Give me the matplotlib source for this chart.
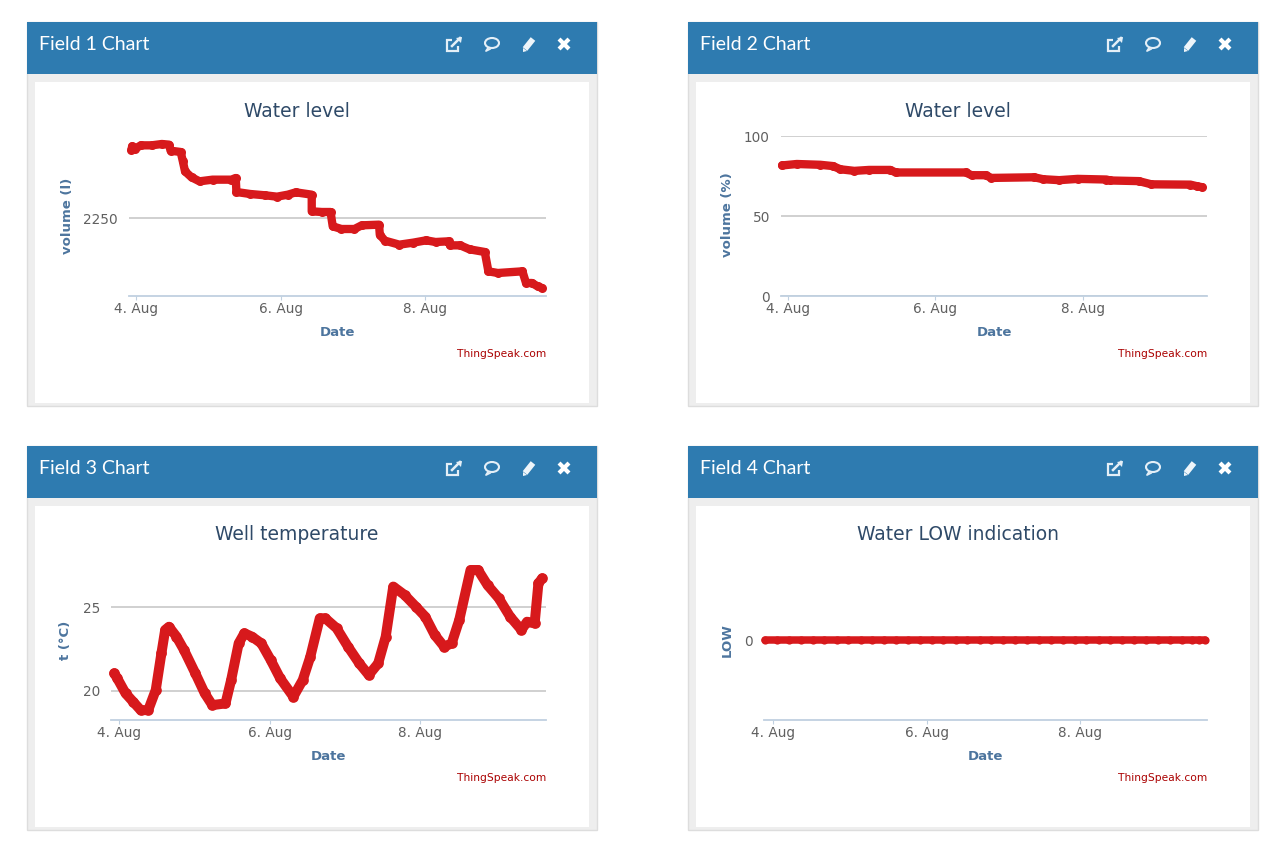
import matplotlib
matplotlib.use('Agg')
import matplotlib.pyplot as plt
from matplotlib.patches import Rectangle, Ellipse, Polygon

# days of August
level_days = [3.94, 3.95, 3.99, 4.07, 4.22, 4.36, 4.46, 4.48, 4.62, 4.65, 4.68, 4.77, 4.88, 5.06, 5.32,
              5.38, 5.39, 5.58, 5.79, 5.95, 6.10, 6.21, 6.43, 6.43, 6.57, 6.69, 6.72, 6.84, 7.02, 7.12,
              7.36, 7.37, 7.44, 7.64, 7.83, 8.01, 8.14, 8.32, 8.34, 8.48, 8.61, 8.82, 8.87, 9.00, 9.34,
              9.39, 9.47, 9.55, 9.61]
level_litres = [2455, 2465, 2458, 2468, 2468, 2472, 2470, 2452, 2448, 2420, 2390, 2372, 2360, 2365, 2365,
                2370, 2328, 2322, 2318, 2314, 2320, 2327, 2320, 2270, 2268, 2268, 2225, 2217, 2217, 2228,
                2230, 2200, 2182, 2170, 2176, 2183, 2178, 2180, 2168, 2168, 2156, 2148, 2090, 2085, 2090,
                2055, 2055, 2045, 2040]

percent_days = [3.92, 4.12, 4.44, 4.61, 4.71, 4.90, 5.10, 5.39, 5.46, 6.41, 6.49, 6.68, 6.76, 7.34, 7.46,
                7.68, 7.93, 8.32, 8.37, 8.76, 8.93, 9.46, 9.55, 9.62]
percent_values = [81.6, 82.5, 82.0, 81.2, 79.2, 78.2, 78.8, 78.8, 77.2, 77.2, 75.5, 75.5, 73.8, 74.2, 73.0,
                  72.4, 73.2, 72.8, 72.2, 71.8, 69.8, 69.6, 68.6, 68.0]

temp_days = [3.94, 3.98, 4.09, 4.19, 4.29, 4.39, 4.49, 4.565, 4.615, 4.665, 4.765, 4.865, 5.015, 5.14,
             5.24, 5.415, 5.49, 5.59, 5.665, 5.765, 5.89, 6.015, 6.14, 6.315, 6.44, 6.54, 6.665, 6.74,
             6.89, 7.04, 7.19, 7.315, 7.44, 7.54, 7.64, 7.79, 7.94, 8.065, 8.19, 8.315, 8.415, 8.515,
             8.665, 8.765, 8.89, 9.04, 9.19, 9.34, 9.415, 9.515, 9.565, 9.615]
temp_values = [21.04, 20.74, 19.84, 19.34, 18.84, 18.84, 20.04, 22.23, 23.63, 23.82, 23.23, 22.43, 21.04,
               19.84, 19.14, 19.24, 20.64, 22.83, 23.43, 23.23, 22.83, 21.83, 20.74, 19.64, 20.64, 22.03,
               24.32, 24.32, 23.73, 22.63, 21.63, 20.94, 21.63, 23.23, 26.22, 25.72, 25.02, 24.42, 23.33,
               22.63, 22.83, 24.22, 27.21, 27.21, 26.31, 25.52, 24.42, 23.63, 24.12, 24.02, 26.41, 26.71]

low_days = [3.90, 4.05, 4.21, 4.36, 4.52, 4.67, 4.83, 4.98, 5.14, 5.29, 5.45, 5.60, 5.76, 5.91, 6.07,
            6.22, 6.38, 6.53, 6.69, 6.84, 7.00, 7.15, 7.31, 7.46, 7.62, 7.77, 7.93, 8.08, 8.24, 8.39,
            8.55, 8.70, 8.86, 9.01, 9.17, 9.32, 9.45, 9.55, 9.62]
low_values = [0] * len(low_days)

tick_days = [4, 6, 8]
tick_labels = ['4. Aug', '6. Aug', '8. Aug']

RED = '#d7191c'
BLUE = '#2e7bb0'
TITLE_COLOR = '#2f4a68'
LABEL_COLOR = '#4d759e'
TICK_COLOR = '#606060'

W, H = 1280, 844
fig = plt.figure(figsize=(W / 100, H / 100), dpi=100, facecolor='white')

# page layer in pixel coordinates
bg = fig.add_axes([0, 0, 1, 1])
bg.set_xlim(0, W)
bg.set_ylim(H, 0)
bg.axis('off')


def draw_icons(x0, y0):
    # external link
    bg.add_patch(Rectangle((x0 + 420, y0 + 18), 11, 11, fill=False, ec='#e4eff7', lw=1.6))
    bg.add_patch(Rectangle((x0 + 425, y0 + 15), 8, 9, fc=BLUE, ec='none'))
    bg.plot([x0 + 425, x0 + 433], [y0 + 24, y0 + 16], color='#e4eff7', lw=1.8)
    bg.add_patch(Polygon([[x0 + 429, y0 + 16], [x0 + 435, y0 + 15], [x0 + 434, y0 + 21]], fc='#e4eff7', ec='none'))
    # comment
    bg.add_patch(Ellipse((x0 + 465, y0 + 21), 14, 10, fill=False, ec='#e4eff7', lw=1.5))
    bg.plot([x0 + 461, x0 + 459, x0 + 463], [y0 + 26, y0 + 29, y0 + 27], color='#e4eff7', lw=1.3)
    # pencil
    bg.plot([x0 + 498, x0 + 506], [y0 + 27, y0 + 17], color='#eef5fa', lw=4.2, solid_capstyle='butt')
    bg.add_patch(Polygon([[x0 + 496, y0 + 26], [x0 + 500, y0 + 29], [x0 + 496, y0 + 30]], fc='#eef5fa', ec='none'))
    # close
    bg.plot([x0 + 533.5, x0 + 540.5], [y0 + 18.5, y0 + 25.5], color='white', lw=3)
    bg.plot([x0 + 533.5, x0 + 540.5], [y0 + 25.5, y0 + 18.5], color='white', lw=3)


def draw_panel(x0, y0, name):
    bg.add_patch(Rectangle((x0, y0), 570, 384, fc='#eeeeee', ec='#dddddd', lw=1))
    bg.add_patch(Rectangle((x0 + 8, y0 + 60), 554, 321, fc='white', ec='none'))
    bg.add_patch(Rectangle((x0, y0), 570, 52, fc=BLUE, ec='none'))
    bg.text(x0 + 12, y0 + 22, name, color='white', fontsize=14, family='Lato', va='center', ha='left')
    draw_icons(x0, y0)


def draw_chart(x0, y0, left, right, top, bottom, tick4, per_day, ylim, yticks, ylabels, days, values,
               title, ylabel, title_x, date_x, ylabel_x, ylabel_y, lw):
    ax = fig.add_axes([left / W, 1 - bottom / H, (right - left) / W, (bottom - top) / H])
    ax.patch.set_alpha(0)
    ax.set_xlim(4 + (left - tick4) / per_day, 4 + (right - tick4) / per_day)
    ax.set_ylim(ylim)
    ax.set_yticks(yticks, ylabels)
    ax.set_xticks(tick_days, tick_labels)
    ax.grid(True, axis='y', color='#c8c8c8', lw=1.2)
    ax.set_axisbelow(True)
    for s in ['top', 'left', 'right']:
        ax.spines[s].set_visible(False)
    ax.spines['bottom'].set_color('#c0d0e0')
    ax.spines['bottom'].set_linewidth(1.3)
    ax.tick_params(axis='x', length=3, width=0.8, color='#c0d0e0', labelcolor=TICK_COLOR, labelsize=9.8, pad=1)
    ax.tick_params(axis='y', length=0, labelcolor=TICK_COLOR, labelsize=9.8, pad=8)
    ax.plot(days, values, color=RED, lw=lw, marker='o', ms=lw + 0.5, mew=0, clip_on=False,
            solid_joinstyle='round', solid_capstyle='round')
    ax.set_title(title, fontsize=13.5, color=TITLE_COLOR, x=(title_x - left) / (right - left),
                 y=(bottom - (y0 + 89)) / (bottom - top), va='center', pad=0)
    ax.set_xlabel('Date', fontsize=9.5, fontweight='bold', color=LABEL_COLOR)
    ax.xaxis.set_label_coords((date_x - left) / (right - left), (bottom - (y0 + 310)) / (bottom - top))
    ax.xaxis.label.set_va('center')
    ax.set_ylabel(ylabel, fontsize=9.5, fontweight='bold', color=LABEL_COLOR)
    ax.yaxis.set_label_coords((ylabel_x - left) / (right - left), (bottom - ylabel_y) / (bottom - top))
    ax.yaxis.label.set_va('center')
    ax.text(right, y0 + 332, 'ThingSpeak.com', fontsize=7.7, color='#aa0000', ha='right', va='center',
            transform=bg.transData)
    return ax


draw_panel(27, 22, 'Field 1 Chart')
draw_panel(688, 22, 'Field 2 Chart')
draw_panel(27, 446, 'Field 3 Chart')
draw_panel(688, 446, 'Field 4 Chart')

draw_chart(27, 22, 129, 546, 136, 296, 135.8, 72.4, (2016, 2496), [2250], ['2250'],
           level_days, level_litres, 'Water level', 'volume (l)', 297, 337, 67, 216, 6.0)
draw_chart(688, 22, 781, 1207, 136, 296, 788, 73.7, (0, 100), [0, 50, 100], ['0', '50', '100'],
           percent_days, percent_values, 'Water level', 'volume (%)', 958, 994, 728, 215, 6.0)
draw_chart(27, 446, 111, 546, 566, 720, 118.8, 75.4, (18.25, 27.45), [20, 25], ['20', '25'],
           temp_days, temp_values, 'Well temperature', 't (°C)', 297, 328, 66, 640, 7.2)
draw_chart(688, 446, 764, 1207, 560, 720, 773, 76.8, (-1, 1), [0], ['0'],
           low_days, low_values, 'Water LOW indication', 'LOW', 958, 985, 727, 640, 5.4)

fig.savefig('out.png', dpi=100)
